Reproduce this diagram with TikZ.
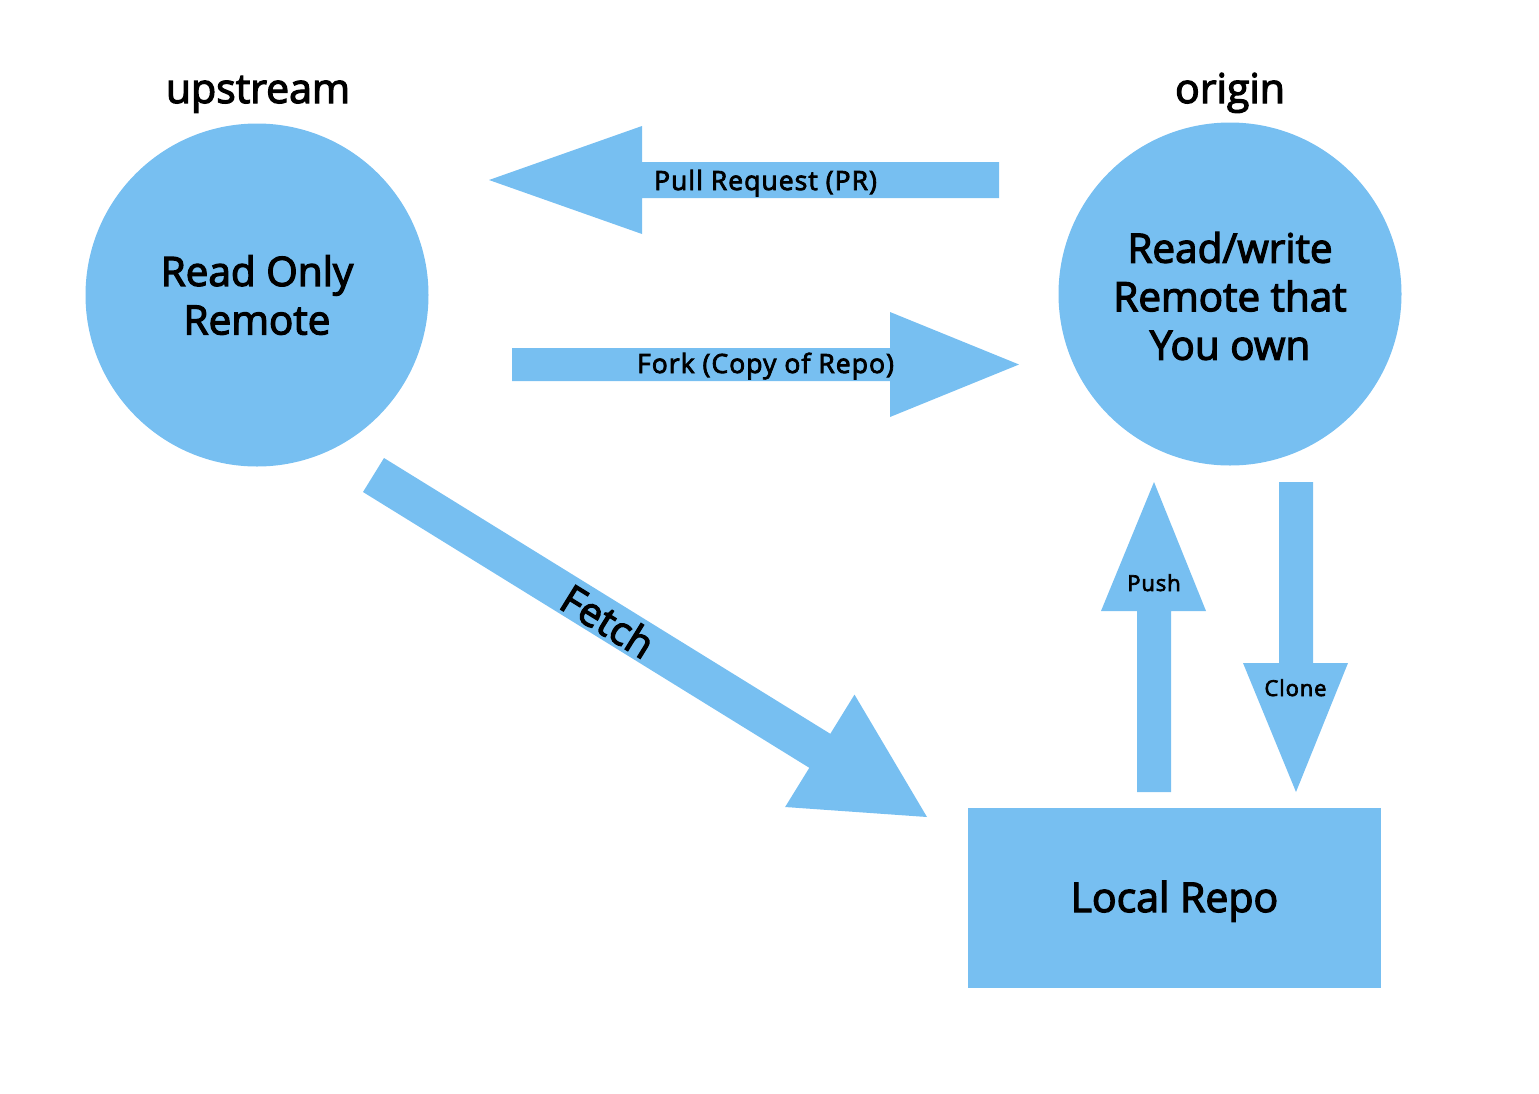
\documentclass[tikz,border=0pt]{standalone}
\usepackage{fontspec}
\setmainfont{Open Sans}
\newfontfamily\medf[FakeBold=3]{Open Sans}
\newfontfamily\medsp[FakeBold=3,LetterSpace=4]{Open Sans}
\definecolor{sky}{RGB}{119,191,241}
\begin{document}
\begin{tikzpicture}[x=1pt,y=-1pt,
  blob/.style={fill=sky,draw=none},
  bigtext/.style={font=\medf\fontsize{40.5}{48.5}\selectfont,align=center,text=black},
  headtext/.style={font=\medf\fontsize{41}{48}\selectfont,text=black},
  arrowtext/.style={font=\medsp\fontsize{26.5}{30}\selectfont,text=black,inner sep=0pt},
  smalltext/.style={font=\medsp\fontsize{22}{26}\selectfont,text=black,inner sep=0pt}]
\useasboundingbox (0,0) rectangle (1539,1093);
% remotes
\node[blob,circle,minimum size=343pt,inner sep=0pt,bigtext] (up) at (257,295) {Read Only\\Remote};
\node[blob,circle,minimum size=343pt,inner sep=0pt] (orig) at (1230,294) {};
\node[bigtext,inner sep=0pt] (origtxt) at (1230,296) {Read/write\\Remote that\\You own};
\node[headtext,anchor=base,inner sep=0pt] (uplbl) at (258,103) {upstream};
\node[headtext,anchor=base,inner sep=0pt] (origlbl) at (1230,103) {origin};
% local repo
\node[blob,rectangle,minimum width=413pt,minimum height=180pt,inner sep=0pt] (local) at (1174.5,898) {};
\node[font=\medf\fontsize{41}{48}\selectfont,anchor=base,inner sep=0pt] (locallbl) at (1174.5,912) {Local Repo};
% pull request arrow
\fill[sky] (999,162) -- (642,162) -- (642,126) -- (489,180) -- (642,234) -- (642,198) -- (999,198) -- cycle;
\node[arrowtext,anchor=base] (prlbl) at (765.5,190) {Pull Request (PR)};
% fork arrow
\fill[sky] (512,348) -- (890,348) -- (890,312) -- (1019,364.5) -- (890,417) -- (890,381) -- (512,381) -- cycle;
\node[arrowtext,anchor=base] (forklbl) at (765.5,373) {Fork (Copy of Repo)};
% fetch arrow
\fill[sky] (384,458) -- (830.3,733.8) -- (854.5,694.6) -- (927,817) -- (785.1,807) -- (809.3,767.8) -- (363,492) -- cycle;
\node[font=\medf\fontsize{40}{48}\selectfont,rotate=-31.7,inner sep=0pt] (fetchlbl) at (608,621) {Fetch};
% push arrow
\fill[sky] (1137,792) -- (1137,611) -- (1101,611) -- (1154,482) -- (1206,611) -- (1171,611) -- (1171,792) -- cycle;
\node[smalltext,anchor=base] (pushlbl) at (1154,591) {Push};
% clone arrow
\fill[sky] (1279,482) -- (1313,482) -- (1313,663) -- (1348,663) -- (1296,792) -- (1243,663) -- (1279,663) -- cycle;
\node[smalltext,anchor=base] (clonelbl) at (1295.5,696) {Clone};
\end{tikzpicture}
\end{document}
